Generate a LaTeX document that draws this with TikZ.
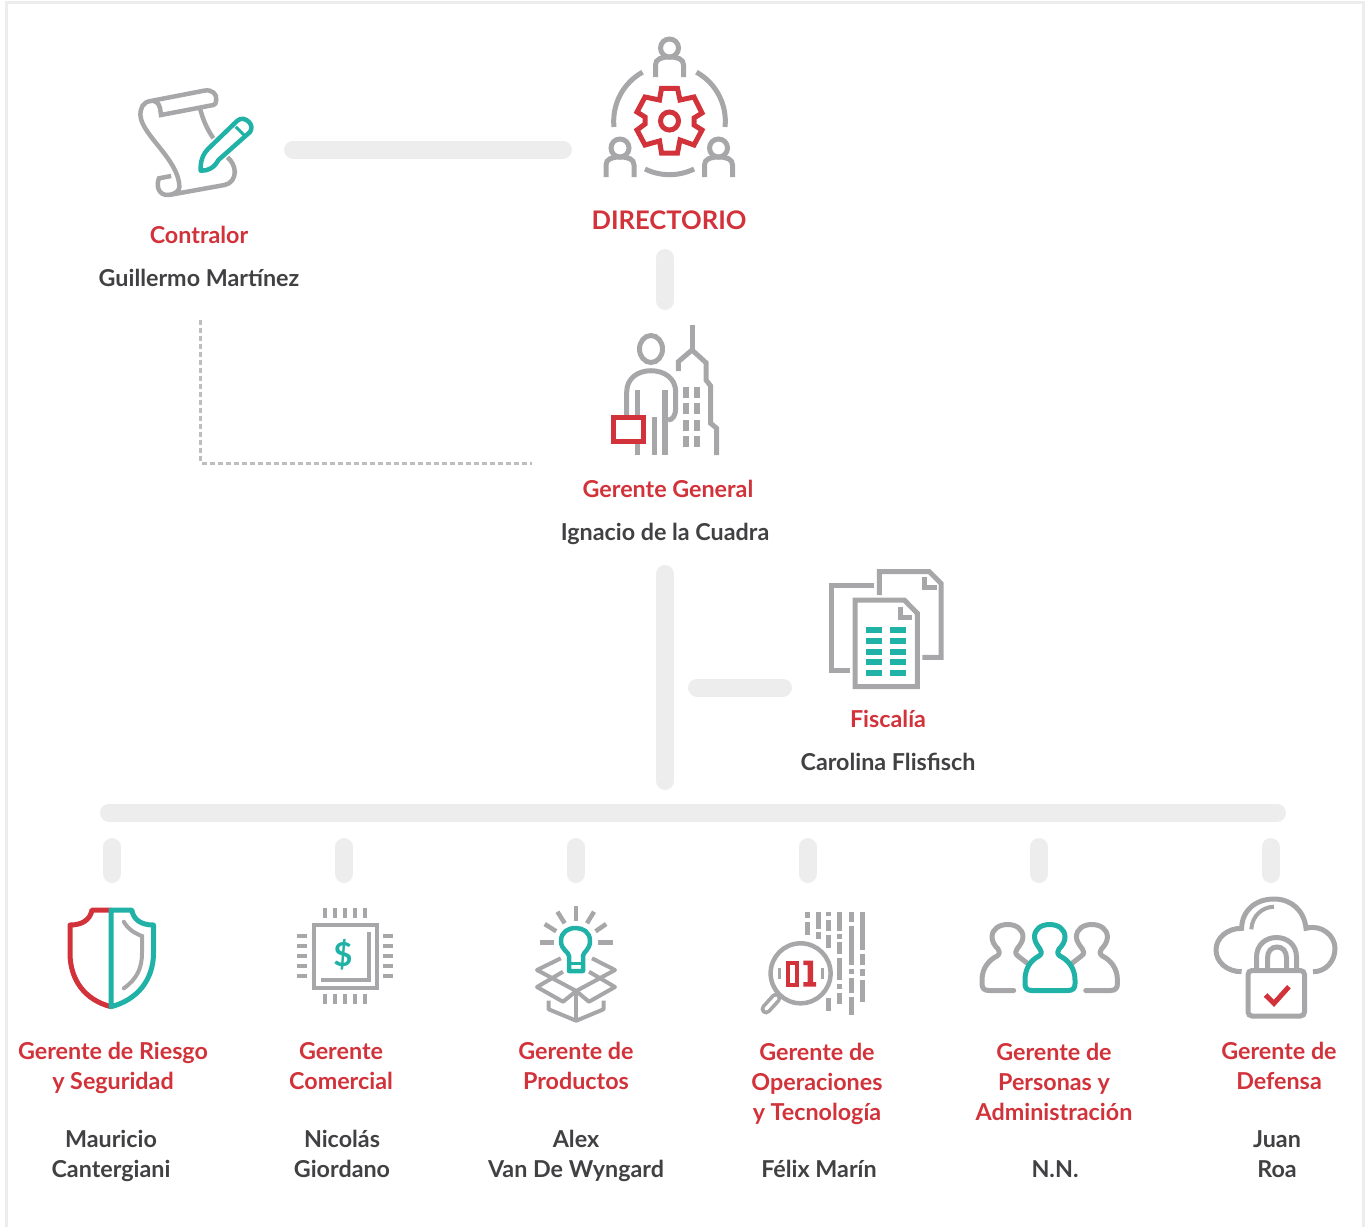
\documentclass[tikz,border=0pt]{standalone}
\usepackage{fontspec}
\setmainfont{Lato}
\definecolor{rojo}{HTML}{D2323A}
\definecolor{verde}{HTML}{20B2A6}
\definecolor{gris}{HTML}{A7A7A9}
\definecolor{barra}{HTML}{EDEDED}
\definecolor{oscuro}{HTML}{414042}
\tikzset{
  cargo/.style={text=rojo,font=\fontsize{23.3}{30}\selectfont\bfseries,align=center,inner sep=0pt},
  nombre/.style={text=oscuro,font=\fontsize{23.3}{30}\selectfont\bfseries,align=center,inner sep=0pt},
  conector/.style={barra,line width=18pt,line cap=round},
  punteado/.style={gris!75,line width=3pt,dash pattern=on 5pt off 3pt},
  icono/.style={gris,line width=5pt,line join=miter},
  iconorojo/.style={rojo,line width=5pt,line join=miter},
  iconoverde/.style={verde,line width=5pt,line join=round},
  persona/.pic={
    \draw[icono] (0,-18) circle[radius=9pt];
    \draw[icono] (-14,11) -- (-14,-1) .. controls (-14,-7) and (-8,-9) .. (0,-9) .. controls (8,-9) and (14,-7) .. (14,-1) -- (14,11);
  }
}
\begin{document}
\begin{tikzpicture}[x=1pt,y=-1pt]
  \useasboundingbox (0,0) rectangle (1367,1227);
  % Marco
  \draw[barra,line width=2.5pt] (6.5,1227) -- (6.5,2.5) -- (1363.5,2.5) -- (1363.5,1227);

  % Textos superiores
  \node[cargo] (contralor) at (199,235) {Contralor};
  \node[nombre] (martinez) at (199,278) {Guillermo Martínez};
  \node[cargo,font=\fontsize{25.6}{30}\selectfont\bfseries] (directorio) at (669,220) {DIRECTORIO};
  \node[cargo] (general) at (668,489) {Gerente General};
  \node[nombre] (cuadra) at (665,534) {Ignacio de la Cuadra};
  \node[cargo] (fiscalia) at (888,719) {Fiscalía};
  \node[nombre] (flisfisch) at (888,762) {Carolina Flisfisch};

  % Textos inferiores
  \node[cargo] (riesgo) at (113,1068) {Gerente de Riesgo\\y Seguridad};
  \node[nombre] (cantergiani) at (111,1156) {Mauricio\\Cantergiani};
  \node[cargo] (comercial) at (341,1066) {Gerente\\Comercial};
  \node[nombre] (giordano) at (342,1154) {Nicolás\\Giordano};
  \node[cargo] (productos) at (576,1066) {Gerente de\\Productos};
  \node[nombre] (wyngard) at (576,1156) {Alex\\Van De Wyngard};
  \node[cargo] (operaciones) at (817,1083.5) {Gerente de\\Operaciones\\y Tecnología};
  \node[nombre] (marin) at (819,1169) {Félix Marín};
  \node[cargo] (personas) at (1054,1082) {Gerente de\\Personas y\\Administración};
  \node[nombre] (nn) at (1055,1169) {N.N.};
  \node[cargo] (defensa) at (1279,1066) {Gerente de\\Defensa};
  \node[nombre] (roa) at (1277,1154) {Juan\\Roa};

  % Conectores
  \coordinate (c1) at (293,149.5);
  \coordinate (c2) at (563,149.5);
  \coordinate (c3) at (665,258);
  \coordinate (c4) at (665,301);
  \coordinate (c5) at (665,574);
  \coordinate (c6) at (665,781);
  \coordinate (c7) at (697,687.5);
  \coordinate (c8) at (783,687.5);
  \coordinate (c9) at (109,812.5);
  \coordinate (c10) at (1277,812.5);
  \draw[conector] (c1) -- (c2);
  \draw[conector] (c3) -- (c4);
  \draw[conector] (c5) -- (c6);
  \draw[conector] (c7) -- (c8);
  \draw[conector] (c9) -- (c10);
  \foreach \n/\px in {a/112,b/344,c/575.5,d/807.5,e/1039,f/1270.5} {
    \coordinate (\n1) at (\px,847);
    \coordinate (\n2) at (\px,874);
    \draw[conector] (\n1) -- (\n2);
  }
  \coordinate (d1) at (200.5,320);
  \coordinate (d2) at (532,463);
  \draw[punteado] (d1) |- (d2);

  % Contralor
  \draw[icono,line width=4.5pt] (150.7,101) -- (204,90.7) .. controls (212,89) and (217,94) .. (216.3,100) .. controls (216,103) and (215,105) .. (213.4,105) -- (161,115) -- (160,108) .. controls (159,103) and (155,100) .. (150.7,101) .. controls (143,102) and (140,108) .. (140.5,116) .. controls (142,135) and (179,160) .. (179.4,186.7) .. controls (179.5,191) and (175,194) .. (169,195) -- (224.5,185) .. controls (231,184) and (234.8,178) .. (234.8,172) .. controls (234.8,166) and (231,160) .. (227.4,157.3);
  \draw[icono,line width=4.5pt] (171.2,176) -- (159,178.3) .. controls (156,185) and (158,196) .. (169,195);
  \draw[icono,line width=4.5pt] (200,108.3) .. controls (203,120) and (207,129) .. (213.4,138.3);
  \draw[iconoverde,line width=4.5pt] (200.7,170.7) .. controls (200,160) and (204,153) .. (208,149) -- (237,121) .. controls (241,117) and (246,119) .. (249,122) .. controls (252,125) and (252,129) .. (250,132) -- (218.4,160) .. controls (214,168) and (208,171) .. (200.7,170.7) -- cycle;
  \draw[iconoverde,line width=3pt] (235.8,126.7) -- (244,135);

  % Directorio
  \draw[iconorojo] (661.5,88.3) -- (677.5,88.3) -- (680,100) -- (694,97) -- (702,113) -- (694,118) -- (694,125) -- (702,130) -- (694,145) -- (680,140) -- (677.5,153) -- (661.5,153) -- (659.5,141) -- (645,145) -- (637,130) -- (645,124) -- (645,117) -- (637,112) -- (645,97) -- (659.5,100) -- cycle;
  \draw[iconorojo] (669.5,121) circle[radius=9pt];
  \draw[icono] (614,127) arc[start angle=186,end angle=119,radius=56pt];
  \draw[icono] (725,127) arc[start angle=-6,end angle=61,radius=56pt];
  \draw[icono] (645,169) arc[start angle=244,end angle=296,radius=56pt];
  \pic at (669.5,66) {persona};
  \pic at (620,166) {persona};
  \pic at (718.5,166) {persona};

  % Gerente General
  \draw[icono] (651,349) ellipse[x radius=11.5pt,y radius=13.5pt];
  \draw[icono] (626.7,415) -- (626.7,392) .. controls (626.7,378) and (638,370.7) .. (651,370.7) .. controls (664,370.7) and (675.7,378) .. (675.7,392) -- (675.7,408) .. controls (675.7,415) and (673,420) .. (668,420);
  \draw[icono,line width=5.5pt] (637.7,390) -- (637.7,455);
  \draw[icono,line width=5.5pt] (665,390) -- (665,455);
  \draw[icono,line width=5.5pt] (654.3,417.3) -- (654.3,455);
  \draw[iconorojo,fill=white] (613,417) rectangle (643.2,441.5);
  \draw[icono] (692,325) -- (692,350);
  \draw[icono] (678.3,371) -- (678.3,361.7) -- (692,350) -- (706,362.7) -- (706,380) -- (710.7,386) -- (710.7,423.3) -- (716.7,428.3) -- (716.7,455);
  \foreach \px in {683,694} \foreach \py in {387.3,403.3,420,436} {
    \fill[gris] (\px,\py) rectangle ++(6,11);
  }

  % Fiscalia
  \draw[icono] (879.3,595) -- (879.3,571.7) -- (929.3,571.7) -- (941,583.3) -- (941,657.3) -- (922.3,657.3);
  \draw[icono] (924.3,576.7) -- (924.3,587.7) -- (936.7,587.7);
  \draw[icono] (874,585) -- (831.7,585) -- (831.7,670) -- (850,670);
  \draw[icono] (855,600) -- (904.3,600) -- (917.3,613.3) -- (917.3,686.7) -- (855,686.7) -- cycle;
  \draw[icono] (900,606.7) -- (900,617.3) -- (911.7,617.3);
  \foreach \px in {866,890} \foreach \py in {627.3,638.3,649,659,670} {
    \fill[verde] (\px,\py) rectangle ++(16,5.7);
  }

  % Riesgo
  \draw[iconorojo,line join=round] (111,1006.7) .. controls (85,1000) and (70,980) .. (70,953) -- (70,925) .. controls (82,925) and (90,920) .. (92,910) -- (111,910);
  \draw[iconoverde] (111,910) -- (131.8,910) .. controls (133.5,920) and (141.5,925) .. (153.5,925) -- (153.5,953) .. controls (153.5,980) and (137,1000) .. (111,1006.7) -- cycle;
  \draw[icono,line width=4pt,line cap=round] (123.8,921.7) .. controls (128,929) and (134,933) .. (142,936) -- (142,953) .. controls (142,968) and (137,979) .. (123.8,988.3);

  % Comercial
  \begin{scope}[xshift=-2pt]
    \draw[icono,line width=4pt] (315.5,924.5) rectangle (378.7,987.5);
    \draw[icono,line width=4pt] (370.8,932.3) -- (370.8,980) -- (322.7,980);
    \foreach \px in {326.5,336.5,346.5,356.5,366.5} {
      \fill[gris] (\px-2,908.3) rectangle ++(4,9.4);
      \fill[gris] (\px-2,994.3) rectangle ++(4,9.4);
    }
    \foreach \py in {935.7,945.7,955.7,965.7,975.7} {
      \fill[gris] (298.5,\py-2) rectangle ++(10,4);
      \fill[gris] (384.6,\py-2) rectangle ++(10,4);
    }
  \end{scope}
  \node[text=verde,font=\fontsize{33}{33}\selectfont\bfseries,inner sep=0pt] (dolar) at (343,955) {\$};

  % Productos
  \begin{scope}[xshift=-3pt]
    \draw[icono,line width=4.5pt] (579.2,906) -- (579.2,920.7);
    \draw[icono,line width=4.5pt] (560.4,911.7) -- (567.7,923.3);
    \draw[icono,line width=4.5pt] (597,911.7) -- (590,923.3);
    \draw[icono,line width=4.5pt] (547.7,924) -- (559.2,931.3);
    \draw[icono,line width=4.5pt] (609.2,924) -- (598.5,931.3);
    \draw[icono,line width=4.5pt] (542.7,942.3) -- (557.3,942.3);
    \draw[icono,line width=4.5pt] (600.8,942.3) -- (615.8,942.3);
    \draw[iconoverde,line width=4.5pt] (572,971) -- (572,956) .. controls (572,952) and (564,950) .. (564,941) .. controls (564,932) and (571,928) .. (578.7,928) .. controls (586,928) and (593,932) .. (593,941) .. controls (593,950) and (586,952) .. (586,956) -- (586,971) -- cycle;
    \draw[iconoverde,line width=3pt] (572,963) -- (586,963);
    \draw[icono,line width=4pt,line join=round] (563.8,958.3) -- (540,970) -- (579.2,991) -- (618,970) -- (595,958.3);
    \draw[icono,line width=4pt,line join=round] (566,971.7) -- (540,987) -- (566,1001.7) -- (579.2,991) -- (592,1001.7) -- (618,987) -- (592,971.7);
    \draw[icono,line width=4pt,line join=round] (551.7,1000.7) -- (551.7,1009.3) -- (579.2,1020.7) -- (606.5,1009.3) -- (606.5,1000.7);
    \draw[icono,line width=4pt] (579.2,991) -- (579.2,1020.7);
  \end{scope}

  % Operaciones
  \begin{scope}[xshift=-2pt]
    \foreach \px/\ya/\yb in {809.6/911.7/917.7,809.6/922.3/935,820.2/911.7/929,820.2/932.3/939,830.7/911.7/915.7,830.7/920/931,830.7/935/947.7,830.7/998.3/1010.7,841.7/911.7/931,841.7/934.3/939,841.7/942.3/954,841.7/958.3/980,841.7/984.3/989,841.7/993.3/1004,853/911.7/921.7,853/926/965,853/969.3/974,853/978.3/993.3,853/997.3/1015,864/911.7/950,864/954.3/965,864/969.3/975.7,864/980/1001.7} {
      \fill[gris] (\px-2.5,\ya) rectangle (\px+2.5,\yb);
    }
    \draw[icono,line width=4.5pt,fill=white] (802.6,973.3) circle[radius=30pt];
    \draw[gris,line width=11pt,line cap=round] (778,998) -- (768,1009);
    \draw[white,line width=3.5pt,line cap=round] (778,998) -- (768,1009);
    \draw[icono,line width=3pt] (781,968.3) -- (781,979.3);
    \draw[icono,line width=3pt] (824,968.3) -- (824,979.3);
    \draw[iconorojo,line width=4pt] (789.7,962.7) rectangle (798.6,984.7);
    \fill[rojo] (805.3,960.7) -- (815,960.7) -- (815,982) -- (818.2,982) -- (818.2,986.7) -- (805.3,986.7) -- (805.3,982) -- (809.5,982) -- (809.5,965) -- (805.3,965) -- cycle;
  \end{scope}

  % Personas
  \begin{scope}[xshift=-2pt]
    \draw[icono,line cap=round,line join=round] (1015.7,990.5) -- (991,990.5) .. controls (986,990.5) and (984,988) .. (984,984) -- (984,980) .. controls (984,968) and (991,960) .. (999,956) .. controls (1002,954) and (1002,951) .. (1000,949) .. controls (996,945) and (994,941) .. (994,937) .. controls (994,929) and (1001,924.5) .. (1009.8,924.5) .. controls (1018,924.5) and (1025,929) .. (1025,937) .. controls (1025,941) and (1022,945) .. (1019,949) .. controls (1017,951) and (1017,954) .. (1020,956) -- (1029,963);
    \draw[icono,line cap=round,line join=round] (1087.7,990.5) -- (1112.4,990.5) .. controls (1117.4,990.5) and (1119.4,988) .. (1119.4,984) -- (1119.4,980) .. controls (1119.4,968) and (1112.4,960) .. (1104.4,956) .. controls (1101.4,954) and (1101.4,951) .. (1103.4,949) .. controls (1107.4,945) and (1109.4,941) .. (1109.4,937) .. controls (1109.4,929) and (1102.4,924.5) .. (1093.6,924.5) .. controls (1085.4,924.5) and (1078.4,929) .. (1078.4,937) .. controls (1078.4,941) and (1081.4,945) .. (1084.4,949) .. controls (1086.4,951) and (1086.4,954) .. (1083.4,956) -- (1074.4,963);
    \draw[iconoverde,fill=white] (1034,990.5) -- (1070,990.5) .. controls (1075,990.5) and (1077,988) .. (1077,984) -- (1077,980) .. controls (1077,968) and (1070,960) .. (1062,956) .. controls (1059,954) and (1059,951) .. (1061,949) .. controls (1065,945) and (1067,941) .. (1067,937) .. controls (1067,929) and (1060,924.5) .. (1051.7,924.5) .. controls (1043,924.5) and (1036.5,929) .. (1036.5,937) .. controls (1036.5,941) and (1039,945) .. (1042,949) .. controls (1044,951) and (1044,954) .. (1041,956) .. controls (1033,960) and (1027,968) .. (1027,980) -- (1027,984) .. controls (1027,988) and (1029,990.5) .. (1034,990.5) -- cycle;
  \end{scope}

  % Defensa
  \begin{scope}[xshift=-1pt]
    \draw[icono] (1242.6,971.7) .. controls (1228,971.7) and (1217,962) .. (1217,950) .. controls (1217,938) and (1228,928.3) .. (1242.6,928.3) .. controls (1243,910) and (1257,899) .. (1275,899) .. controls (1292,899) and (1305,910) .. (1307,928.3) .. controls (1323,924) and (1336,936) .. (1336,948.3) .. controls (1336,961) and (1327,971.7) .. (1314,971.7);
    \draw[icono,line width=4pt] (1252.3,929.3) .. controls (1253,916) and (1263,907) .. (1275,906.7);
  \end{scope}
  \begin{scope}[xshift=-2.5pt]
    \draw[icono,rounded corners=4pt] (1250.5,970.5) rectangle (1307,1016);
    \draw[icono] (1259,970) -- (1259,957) .. controls (1259,945) and (1268,937.5) .. (1279,937.5) .. controls (1290,937.5) and (1299,945) .. (1299,957) -- (1299,970);
    \draw[icono] (1270,970) -- (1270,958) .. controls (1270,951) and (1274,947) .. (1279.5,947) .. controls (1285,947) and (1289,951) .. (1289,958) -- (1289,970);
    \draw[iconorojo] (1268,995) -- (1276.5,1003.3) -- (1291.4,986.7);
  \end{scope}
\end{tikzpicture}
\end{document}
